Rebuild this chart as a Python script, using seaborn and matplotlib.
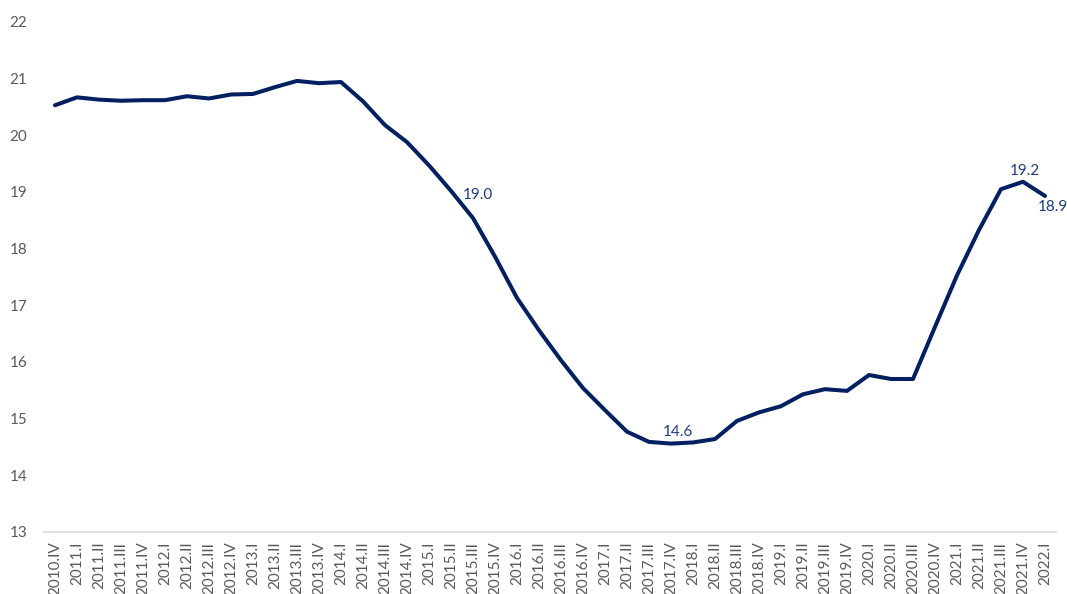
import numpy as np
import pandas as pd
import matplotlib
matplotlib.use("Agg")
import matplotlib.pyplot as plt
import seaborn as sns

# ------------------------------------------------------------------
# Data
# ------------------------------------------------------------------
quarters = ["2010.IV"]
for year in range(2011, 2022):
    quarters += [f"{year}.{q}" for q in ["I", "II", "III", "IV"]]
quarters += ["2022.I"]

values = [
    20.53, 20.67, 20.63, 20.61, 20.62, 20.62, 20.69, 20.65, 20.72, 20.73,
    20.85, 20.96, 20.92, 20.94, 20.60, 20.18, 19.88, 19.47, 19.02, 18.54,
    17.86, 17.13, 16.56, 16.03, 15.54, 15.15, 14.77, 14.59, 14.56, 14.58,
    14.64, 14.96, 15.11, 15.22, 15.43, 15.52, 15.49, 15.77, 15.70, 15.70,
    16.62, 17.53, 18.33, 19.05, 19.18, 18.93,
]

# labelled points: (quarter, offset in points, alignment)
labels = [
    ("2015.II", (8.6, -3), "left"),
    ("2017.IV", (5, 8), "center"),
    ("2021.IV", (1.5, 7.5), "center"),
    ("2022.I", (5.4, -8), "center"),
]

df = pd.DataFrame({"quarter": quarters, "value": values})
df["pos"] = np.arange(len(df))

# ------------------------------------------------------------------
# Plot
# ------------------------------------------------------------------
sns.set_style("white")
plt.rcParams["font.family"] = ["Lato", "DejaVu Sans"]

line_color = "#002060"
label_color = "#1F3D7A"
tick_color = "#595959"

fig = plt.figure(figsize=(10.67, 5.94), dpi=100)
ax = fig.add_axes([0.0412, 0.1044, 0.9485, 0.8586])

sns.lineplot(data=df, x="pos", y="value", ax=ax, color=line_color, linewidth=2.9)

for q, offset, ha in labels:
    row = df[df["quarter"] == q].iloc[0]
    ax.annotate(f"{row['value']:.1f}", xy=(row["pos"], row["value"]),
                xytext=offset, textcoords="offset points",
                ha=ha, va="center", fontsize=11, color=label_color)

ax.set_xlim(-0.5, len(df) - 0.5)
ax.set_ylim(13, 22)
ax.set_yticks(range(13, 23))
ax.set_xticks(df["pos"])
ax.set_xticklabels(df["quarter"], rotation=90)
ax.tick_params(axis="both", length=0, labelsize=11, labelcolor=tick_color)
ax.tick_params(axis="y", pad=12)
ax.tick_params(axis="x", pad=7)
ax.set_xlabel("")
ax.set_ylabel("")

for side in ["top", "right", "left"]:
    ax.spines[side].set_visible(False)
ax.spines["bottom"].set_color("#D9D9D9")
ax.spines["bottom"].set_linewidth(1.2)

plt.savefig("out.png", dpi=100)
plt.close()
